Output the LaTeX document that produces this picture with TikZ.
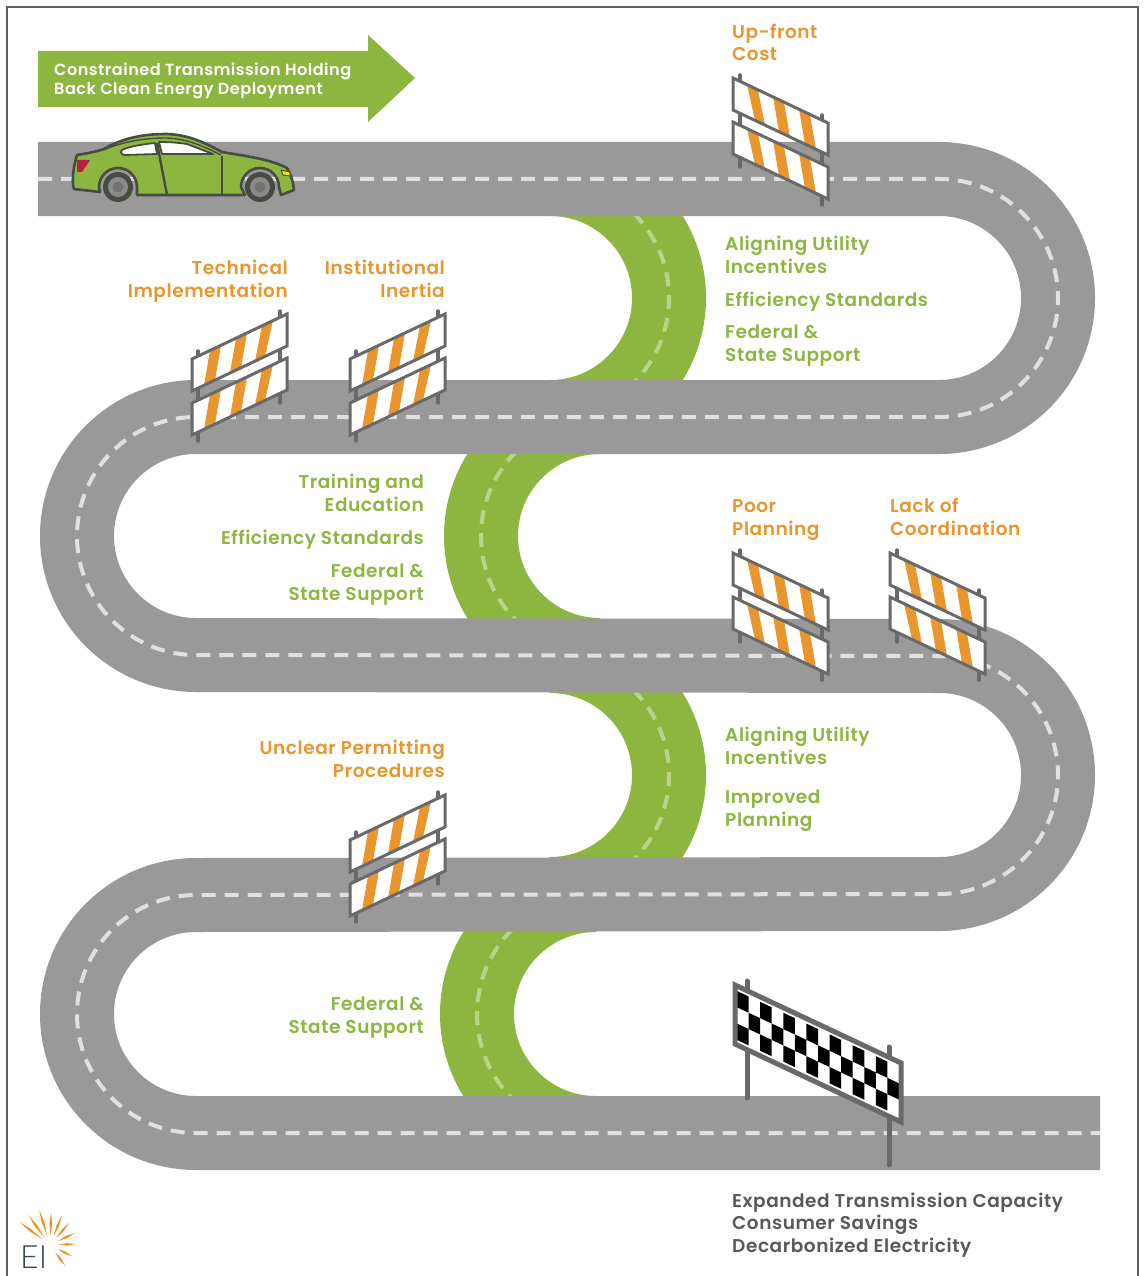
\documentclass[tikz,border=0pt]{standalone}
\usepackage{fontspec}
\setmainfont{Poppins SemiBold}[LetterSpace=3]
\newfontfamily\logofont{Lato Light}
\definecolor{roadgray}{HTML}{999999}
\definecolor{dashgray}{HTML}{E0E0E0}
\definecolor{eigreen}{HTML}{8DB641}
\definecolor{dashgreen}{HTML}{B9D48A}
\definecolor{eiorange}{HTML}{E8962D}
\definecolor{framegray}{HTML}{696969}
\definecolor{cardark}{HTML}{474C43}
\definecolor{taillight}{HTML}{B8203F}
\tikzset{
  x=1pt,y=-1pt,
  road/.style={draw=roadgray,line width=74pt,line cap=butt},
  roaddash/.style={draw=dashgray,line width=4pt,dash pattern=on 14pt off 9pt},
  greenroad/.style={draw=eigreen,line width=74pt},
  greendash/.style={draw=dashgreen,line width=4pt,dash pattern=on 14pt off 9pt},
  label/.style={inner sep=0pt,font=\fontsize{18.5}{22.3}\selectfont},
  orangeL/.style={label,text=eiorange,anchor=base west,align=left},
  orangeR/.style={label,text=eiorange,anchor=base east,align=right},
  greenL/.style={label,text=eigreen,anchor=base west,align=left},
  greenR/.style={label,text=eigreen,anchor=base east,align=right},
  post/.style={draw=framegray,line width=3.5pt,line cap=round},
  panelbox/.style={draw=framegray,line width=3pt,fill=white,line join=miter},
  stripe/.style={fill=eiorange},
  pics/barricade/.style={code={
    \draw[post] (7,-3) -- (7,89);
    \draw[post] (89,37) -- (89,127);
    \fill[white] (0,0) -- (95,45) -- (95,77) -- (0,32) -- cycle;
    \fill[stripe] (14,6.6) -- (25,11.9) -- (32,47.2) -- (22,42.4) -- cycle;
    \fill[stripe] (40,19) -- (51,24.2) -- (57,59) -- (46,53.8) -- cycle;
    \fill[stripe] (66,31.3) -- (77,36.5) -- (83,71.3) -- (72,66.1) -- cycle;
    \draw[panelbox,fill=none] (0,0) -- (95,45) -- (95,77) -- (0,32) -- cycle;
    \fill[white] (0,44) -- (95,89) -- (95,121) -- (0,76) -- cycle;
    \fill[stripe] (14,50.6) -- (25,55.9) -- (32,91.2) -- (22,86.4) -- cycle;
    \fill[stripe] (40,63) -- (51,68.2) -- (57,103) -- (46,97.8) -- cycle;
    \fill[stripe] (66,75.3) -- (77,80.5) -- (83,115.3) -- (72,110.1) -- cycle;
    \draw[panelbox,fill=none] (0,44) -- (95,89) -- (95,121) -- (0,76) -- cycle;
  }}
}
\begin{document}
\begin{tikzpicture}
\useasboundingbox (0,0) rectangle (1143,1276);
\fill[white] (0,0) rectangle (1143,1276);
\begin{scope}
\clip (0,0) rectangle (1143,1276);
\draw[draw=framegray!90!black,line width=2pt] (7,7) rectangle (1138,1290);
\end{scope}

% green connecting bends
\draw[greenroad] (550,179) arc[start angle=-90,end angle=90,radius=119];
\draw[greendash] (550,179) arc[start angle=-90,end angle=90,radius=119];
\draw[greenroad] (600,417) arc[start angle=-90,end angle=-270,radius=119];
\draw[greendash] (600,417) arc[start angle=-90,end angle=-270,radius=119];
\draw[greenroad] (550,656) arc[start angle=-90,end angle=90,radius=119];
\draw[greendash] (550,656) arc[start angle=-90,end angle=90,radius=119];
\draw[greenroad] (596,895) arc[start angle=-90,end angle=-270,radius=119];
\draw[greendash] (596,895) arc[start angle=-90,end angle=-270,radius=119];

% road
\path[road] (38,179) -- (939,179) arc[start angle=-90,end angle=90,radius=119]
  -- (196,417) arc[start angle=-90,end angle=-270,radius=119]
  -- (939,656) arc[start angle=-90,end angle=90,radius=119]
  -- (196,895) arc[start angle=-90,end angle=-270,radius=119]
  -- (1100,1133);
\path[roaddash] (38,179) -- (939,179) arc[start angle=-90,end angle=90,radius=119]
  -- (196,417) arc[start angle=-90,end angle=-270,radius=119]
  -- (939,656) arc[start angle=-90,end angle=90,radius=119]
  -- (196,895) arc[start angle=-90,end angle=-270,radius=119]
  -- (1100,1133);

% headline arrow
\fill[eigreen] (38,51) -- (368,51) -- (368,35) -- (415,78) -- (368,122) -- (368,107) -- (38,107) -- cycle;
\node[label,text=white,anchor=base west,align=left,font=\fontsize{16.1}{19.2}\selectfont] (headline) at (54,95) {Constrained Transmission Holding\\Back Clean Energy Deployment};

% car
\begin{scope}[line join=round]
\path[fill=eigreen,draw=cardark,line width=2.6pt]
  (77,155) .. controls (90,153) and (98,151) .. (104,149)
  .. controls (125,137) and (145,134) .. (167,134)
  .. controls (190,135) and (205,143) .. (222,152)
  .. controls (245,156) and (270,159) .. (287,168)
  .. controls (291,174) and (293,182) .. (294,190) -- (281,195)
  -- (279,187) arc[start angle=0,end angle=-180,radius=19]
  -- (245,195) -- (137,195) -- (137,187) arc[start angle=0,end angle=-180,radius=19]
  -- (100,192) -- (74,189) .. controls (71,180) and (74,165) .. (77,155) -- cycle;
\path[draw=cardark,line width=1.4pt] (103,150) .. controls (125,141) and (145,138) .. (167,138) .. controls (188,139) and (203,146) .. (221,155);
\path[fill=white,draw=cardark,line width=1.8pt] (122,150) .. controls (130,146) and (145,144) .. (155,143) -- (157,154) -- (125,155) .. controls (121,155) and (120,152) .. (122,150) -- cycle;
\path[fill=white,draw=cardark,line width=1.8pt] (159,142) .. controls (172,142) and (180,143) .. (187,144) -- (213,154) -- (162,154) -- cycle;
\path[draw=cardark,line width=2.4pt] (157,143) -- (167,195);
\path[draw=cardark,line width=2.4pt] (222,156) -- (222,195);
\path[fill=taillight] (77,160) -- (90,160) -- (82,172) -- (77,172) -- cycle;
\path[fill=yellow!85!orange,draw=cardark,line width=1pt] (281,170) -- (290,172) -- (290,176) -- (283,175) -- cycle;
\fill[cardark] (118,187) circle[radius=15];
\fill[roadgray!90!black] (118,187) circle[radius=10];
\fill[black!55] (118,187) circle[radius=5.5];
\fill[cardark] (260,187) circle[radius=15];
\fill[roadgray!90!black] (260,187) circle[radius=10];
\fill[black!55] (260,187) circle[radius=5.5];
\end{scope}

% barricades
\pic at (733,78) {barricade};
\pic[xscale=-1] at (287,314) {barricade};
\pic[xscale=-1] at (445,314) {barricade};
\pic at (733,553) {barricade};
\pic at (890,553) {barricade};
\pic[xscale=-1] at (445,795) {barricade};

% finish board
\draw[post,line width=5pt] (747,981) -- (747,1098);
\draw[post,line width=5pt] (889,1047) -- (889,1165);
\fill[white] (735,985) -- (901,1063) -- (901,1122) -- (735,1044) -- cycle;
\foreach \c in {0,...,13}{
  \foreach \r in {0,1,2}{
    \pgfmathparse{int(mod(\c+\r,2))}
    \ifnum\pgfmathresult=0
      \fill[black] ({737+\c*162/14},{991+\c*76/14+\r*16.3})
        -- ({737+(\c+1)*162/14},{991+(\c+1)*76/14+\r*16.3})
        -- ({737+(\c+1)*162/14},{991+(\c+1)*76/14+(\r+1)*16.3})
        -- ({737+\c*162/14},{991+\c*76/14+(\r+1)*16.3}) -- cycle;
    \fi
  }
}
\draw[draw=framegray,line width=5pt,line join=miter] (735,985) -- (901,1063) -- (901,1122) -- (735,1044) -- cycle;

% labels
\node[orangeL] (upfront) at (732,61) {Up-front\\Cost};
\node[orangeR] (technical) at (288,297) {Technical\\Implementation};
\node[orangeR] (institutional) at (445,297) {Institutional\\Inertia};
\node[orangeL] (poor) at (732,535) {Poor\\Planning};
\node[orangeL] (lack) at (890,535) {Lack of\\Coordination};
\node[orangeR] (unclear) at (445,777) {Unclear Permitting\\Procedures};
\node[greenL] (gA1) at (725,273) {Aligning Utility\\Incentives};
\node[greenL] (gA2) at (725,306) {Efficiency Standards};
\node[greenL] (gA3) at (725,361) {Federal \&\\State Support};
\node[greenR] (gB1) at (424,511) {Training and\\Education};
\node[greenR] (gB2) at (424,544) {Efficiency Standards};
\node[greenR] (gB3) at (424,600) {Federal \&\\State Support};
\node[greenL] (gC1) at (725,764) {Aligning Utility\\Incentives};
\node[greenL] (gC2) at (725,826) {Improved\\Planning};
\node[greenR] (gD1) at (424,1033) {Federal \&\\State Support};
\node[label,text=black!65,anchor=base west,align=left] (outcomes) at (732,1252) {Expanded Transmission Capacity\\Consumer Savings\\Decarbonized Electricity};

% logo
\foreach \a/\r in {-143/38,-126/37,-107/37,-88/33,-68/32,-49/29,-26/28,-2/26,27/25,54/26}{
  \begin{scope}[shift={(50,1245)},rotate=-\a]
    \fill[eiorange] (9,0) -- ({0.65*\r},1.3) -- (\r,0) -- ({0.65*\r},-1.3) -- cycle;
  \end{scope}
}
\node[inner sep=0pt,anchor=base west,text={rgb,255:red,47;green,72;blue,88},font=\logofont\fontsize{32}{32}\selectfont] (logo) at (20,1268) {EI};
\end{tikzpicture}
\end{document}
